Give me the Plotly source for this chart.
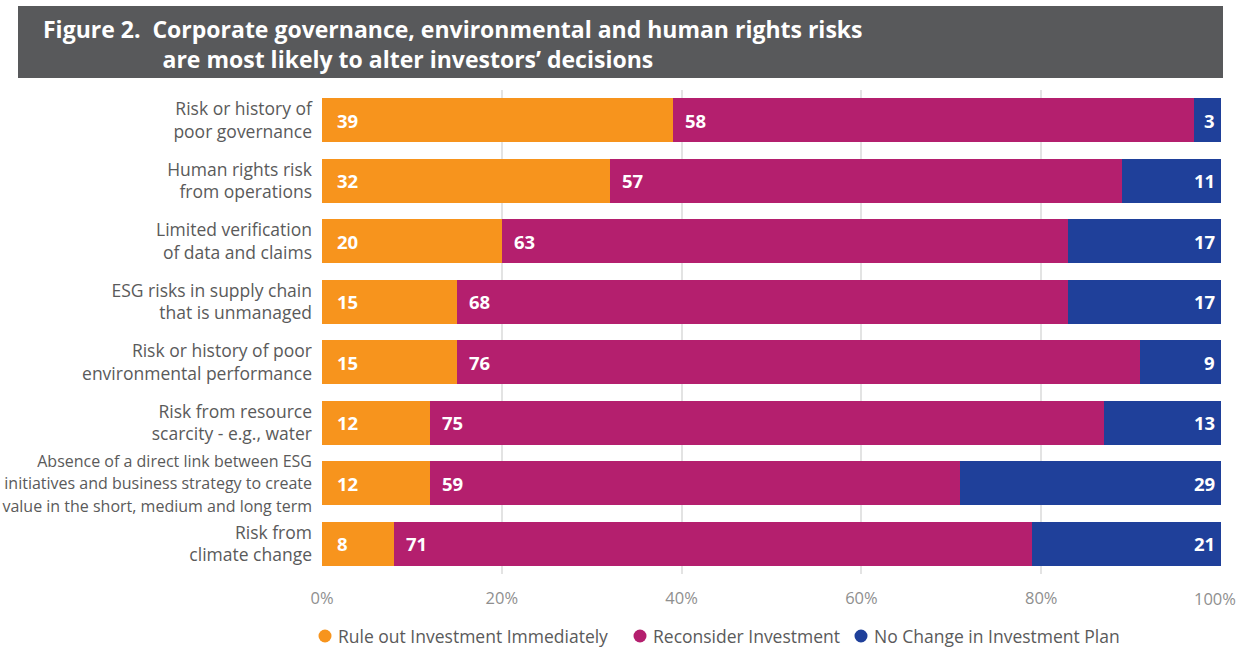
import plotly.graph_objects as go

categories = [
    "Risk or history of<br>poor governance",
    "Human rights risk<br>from operations",
    "Limited verification<br>of data and claims",
    "ESG risks in supply chain<br>that is unmanaged",
    "Risk or history of poor<br>environmental performance",
    "Risk from resource<br>scarcity - e.g., water",
    "Absence of a direct link between ESG<br>initiatives and business strategy to create<br>value in the short, medium and long term",
    "Risk from<br>climate change",
]
rule_out = [39, 32, 20, 15, 15, 12, 12, 8]
reconsider = [58, 57, 63, 68, 76, 75, 59, 71]
no_change = [3, 11, 17, 17, 9, 13, 29, 21]

series_names = ["Rule out Investment Immediately", "Reconsider Investment", "No Change in Investment Plan"]
colors = ["#F7941D", "#B41F6E", "#1F409A"]
tick_vals = [0, 20, 40, 60, 80, 100]
tick_text = ["0%", "20%", "40%", "60%", "80%", "100%"]
title_lines = ["Figure 2.  Corporate governance, environmental and human rights risks",
               "are most likely to alter investors’ decisions"]

# plot area in pixels: x 322..1221, y 90..574
L, R, T, B = 322, 1221, 90, 574
def px(xp):
    return (xp - L) / (R - L)
def py(yp):
    return (B - yp) / (B - T)

fig = go.Figure()
all_series = [rule_out, reconsider, no_change]
for name, vals, col in zip(series_names, all_series, colors):
    fig.add_trace(go.Bar(
        y=categories, x=vals, orientation="h", name=name,
        marker=dict(color=col, line=dict(width=0)),
        showlegend=False, hoverinfo="x+name",
    ))

label_font = dict(family="Open Sans", size=18.5, color="white", weight="bold")
for i, cat in enumerate(categories):
    a, b, c = rule_out[i], reconsider[i], no_change[i]
    fig.add_annotation(x=0, y=cat, text=str(a), showarrow=False, xanchor="left",
                       xshift=13, font=label_font)
    fig.add_annotation(x=a, y=cat, text=str(b), showarrow=False, xanchor="left",
                       xshift=10, font=label_font)
    fig.add_annotation(x=a + b + c, y=cat, text=str(c), showarrow=False, xanchor="right",
                       xshift=-4, font=label_font)

# title banner
fig.add_shape(type="rect", xref="paper", yref="paper",
              x0=px(18), x1=px(1223), y0=py(78), y1=py(6),
              fillcolor="#58595B", line=dict(width=0), layer="above")
indent = "\u00a0" * 20
fig.add_annotation(xref="paper", yref="paper", x=px(41), y=py(44),
                   text="<b>" + title_lines[0] + "<br>" + indent + title_lines[1] + "</b>",
                   showarrow=False, xanchor="left", yanchor="middle", align="left",
                   font=dict(family="Open Sans", size=23, color="white"))

# legend (circle markers + text)
legend_x = [325, 640, 861]
for name, col, lx in zip(series_names, colors, legend_x):
    fig.add_shape(type="circle", xref="paper", yref="paper",
                  x0=px(lx - 6.5), x1=px(lx + 6.5), y0=py(636 + 6.5), y1=py(636 - 6.5),
                  fillcolor=col, line=dict(width=0))
    fig.add_annotation(xref="paper", yref="paper", x=px(lx + 11), y=py(636),
                       text=name, showarrow=False, xanchor="left", yanchor="middle",
                       font=dict(family="Open Sans", size=17.5, color="#5A5A5A"))

# y tick text: long three-line label slightly smaller so it fits the page
y_ticktext = [
    ('<span style="font-size:16px">' + c + "</span>") if c.count("<br>") >= 2 else c
    for c in categories
]

# x tick labels: last one drawn as right-anchored annotation so it stays on the page
x_ticktext = tick_text[:-1] + [""]
tick_font = dict(family="Open Sans", size=16.5, color="#8F8F8F")
fig.add_annotation(x=tick_vals[-1], xref="x", yref="paper", y=py(598),
                   text=tick_text[-1], showarrow=False, xanchor="right", yanchor="middle",
                   xshift=17, font=tick_font)

fig.update_layout(
    width=1239, height=649,
    barmode="stack", bargap=0.27,
    margin=dict(l=L, r=1239 - R, t=T, b=649 - B, autoexpand=False),
    plot_bgcolor="white", paper_bgcolor="white",
    font=dict(family="Open Sans", color="#5A5A5A", size=15),
    showlegend=False,
    xaxis=dict(range=[0, 100], tickmode="array", tickvals=tick_vals, ticktext=x_ticktext,
               showgrid=True, gridcolor="#E3E3E3", gridwidth=1.5, zeroline=False,
               tickfont=tick_font, ticks="", ticklabelstandoff=12,
               automargin=False, fixedrange=True),
    yaxis=dict(autorange="reversed", showgrid=False, ticks="", ticklabelstandoff=9,
               tickmode="array", tickvals=categories, ticktext=y_ticktext,
               tickfont=dict(size=17.5, color="#5A5A5A"), showline=False,
               automargin=False, fixedrange=True),
)

fig.write_html("out.html", config={"displayModeBar": False})
with open("out.html", "r", encoding="utf-8") as f:
    html = f.read()
html = html.replace("<body>", '<body style="margin:0;overflow:hidden">', 1)
with open("out.html", "w", encoding="utf-8") as f:
    f.write(html)
